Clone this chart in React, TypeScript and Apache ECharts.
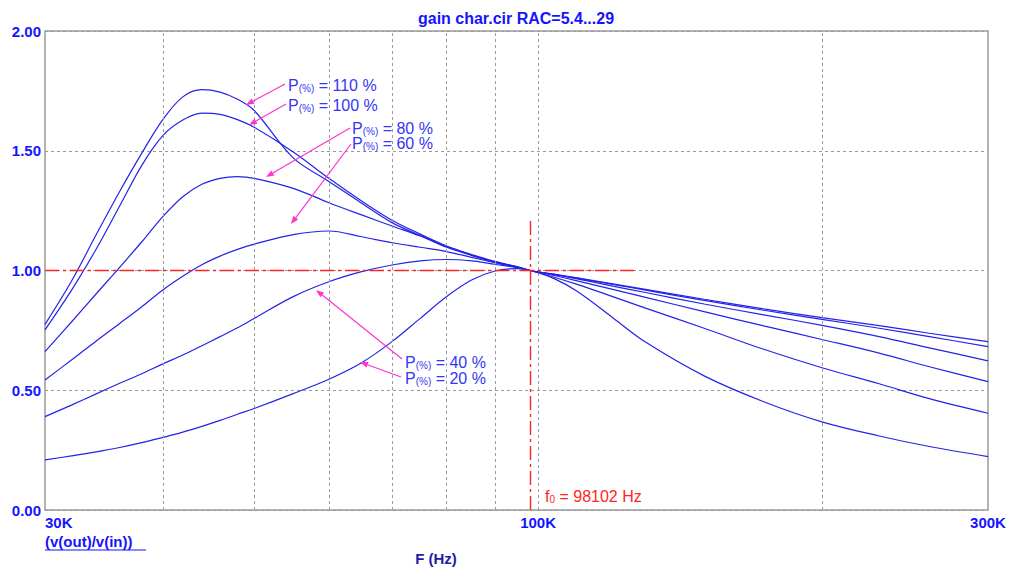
import React, { useEffect, useRef } from "react";
import * as echarts from "echarts";

// Frequencies in kHz
const FREQ_KHZ = [30, 32, 34, 36, 38, 40, 42, 44, 46, 48, 50, 55, 60, 65, 70, 75, 80, 85, 90, 95, 98.102, 104, 110, 120, 130, 150, 173.5, 200, 230, 260, 300];

const P110 = [0.775, 0.955, 1.15, 1.33, 1.49, 1.63, 1.725, 1.755, 1.745, 1.715, 1.668, 1.47, 1.372, 1.281, 1.2, 1.146, 1.097, 1.063, 1.035, 1.015, 1.0, 0.985, 0.969, 0.944, 0.921, 0.88, 0.84, 0.803, 0.77, 0.738, 0.703];
const P100 = [0.752, 0.917, 1.09, 1.269, 1.439, 1.563, 1.628, 1.657, 1.652, 1.63, 1.598, 1.495, 1.385, 1.29, 1.21, 1.152, 1.102, 1.067, 1.038, 1.016, 1.0, 0.984, 0.968, 0.942, 0.918, 0.875, 0.834, 0.796, 0.759, 0.724, 0.682];
const P80 = [0.661, 0.785, 0.903, 1.013, 1.12, 1.225, 1.308, 1.36, 1.385, 1.392, 1.385, 1.343, 1.283, 1.232, 1.186, 1.144, 1.1, 1.064, 1.034, 1.015, 1.0, 0.983, 0.965, 0.935, 0.908, 0.86, 0.815, 0.771, 0.724, 0.677, 0.623];
const P60 = [0.543, 0.626, 0.706, 0.779, 0.849, 0.919, 0.976, 1.024, 1.06, 1.088, 1.11, 1.15, 1.165, 1.141, 1.116, 1.097, 1.079, 1.055, 1.033, 1.013, 1.0, 0.979, 0.957, 0.921, 0.888, 0.828, 0.769, 0.712, 0.655, 0.598, 0.536];
const P40 = [0.39, 0.438, 0.485, 0.529, 0.569, 0.61, 0.647, 0.686, 0.724, 0.761, 0.8, 0.891, 0.953, 0.995, 1.023, 1.04, 1.046, 1.04, 1.026, 1.012, 1.0, 0.972, 0.942, 0.891, 0.843, 0.759, 0.671, 0.594, 0.527, 0.465, 0.404];
const P20 = [0.209, 0.226, 0.243, 0.261, 0.281, 0.303, 0.325, 0.349, 0.374, 0.4, 0.424, 0.486, 0.546, 0.615, 0.703, 0.8, 0.891, 0.96, 0.998, 1.008, 1.0, 0.966, 0.913, 0.803, 0.701, 0.56, 0.452, 0.368, 0.309, 0.265, 0.223];

const LOADS = ["110", "100", "80", "60", "40", "20"];
const CURVES = [P110, P100, P80, P60, P40, P20];

const X_MIN = 30000;
const X_MAX = 300000;
const X_GRID = [40000, 50000, 60000, 70000, 80000, 90000, 100000, 200000];
const Y_MIN = 0;
const Y_MAX = 2;
const Y_STEP = 0.5;

const F0 = 98102;
const REF_H_LEVEL = 1.0;
const REF_H_END = 127000;
const REF_V_TOP = 1.22;

const TITLE = "gain char.cir RAC=5.4...29";
const Y_NAME = "(v(out)/v(in))";
const X_NAME = "F (Hz)";

// annotation layout (pixels)
const ANNOT = [
  { load: "110", tx: 288, ty: 85, from: [285, 84], to: [246, 105] },
  { load: "100", tx: 288, ty: 105, from: [286, 104], to: [249, 125] },
  { load: "80", tx: 352, ty: 128, from: [350, 128], to: [266, 177] },
  { load: "60", tx: 352, ty: 143, from: [351, 144], to: [291, 224] },
  { load: "40", tx: 405, ty: 362, from: [402, 359], to: [316, 290] },
  { load: "20", tx: 405, ty: 378, from: [401, 377], to: [360, 362] },
];

const FONT = "Liberation Sans, Arial, sans-serif";
const AXIS_BLUE = "#1414ff";
const CURVE_BLUE = "#2323e8";
const TEXT_BLUE = "#3535f5";
const MAGENTA = "#ff33cc";
const RED = "#ff2424";
const GRID_GRAY = "#9a9a9a";

function arrow(from: number[], to: number[], color: string) {
  const dx = to[0] - from[0];
  const dy = to[1] - from[1];
  const len = Math.hypot(dx, dy);
  const ux = dx / len;
  const uy = dy / len;
  const L = 8;
  const W = 3;
  const bx = to[0] - ux * L;
  const by = to[1] - uy * L;
  return [
    {
      type: "line",
      shape: { x1: from[0], y1: from[1], x2: bx, y2: by },
      style: { stroke: color, lineWidth: 1.2 },
      z: 10,
    },
    {
      type: "polygon",
      shape: {
        points: [
          [to[0], to[1]],
          [bx - uy * W, by + ux * W],
          [bx + uy * W, by - ux * W],
        ],
      },
      style: { fill: color },
      z: 10,
    },
  ];
}

export default function App() {
  const ref = useRef<HTMLDivElement>(null);

  useEffect(() => {
    if (!ref.current) return;
    const chart = echarts.init(ref.current, undefined, { renderer: "svg" });

    const curveSeries = CURVES.map((vals, i) => ({
      type: "line",
      name: `P = ${LOADS[i]} %`,
      data: FREQ_KHZ.map((f, j) => [f * 1000, vals[j]]),
      showSymbol: false,
      symbol: "none",
      smooth: 0.35,
      lineStyle: { color: CURVE_BLUE, width: 1.2 },
      z: 3,
      silent: true,
    }));

    const gridSeries = {
      type: "line",
      name: "grid",
      data: [],
      z: 1,
      silent: true,
      markLine: {
        silent: true,
        symbol: "none",
        label: { show: false },
        lineStyle: { color: GRID_GRAY, type: [3, 3], width: 1 },
        data: X_GRID.map((v) => ({ xAxis: v })),
      },
    };

    const refSeries = {
      type: "line",
      name: "ref",
      data: [],
      z: 2,
      silent: true,
      markLine: {
        silent: true,
        symbol: "none",
        label: { show: false },
        lineStyle: { color: RED, type: [14, 4, 3, 4], width: 1.4 },
        data: [
          [{ coord: [X_MIN, REF_H_LEVEL] }, { coord: [REF_H_END, REF_H_LEVEL] }],
          [{ coord: [F0, Y_MIN] }, { coord: [F0, REF_V_TOP] }],
        ],
      },
    };

    const graphics: any[] = [
      {
        type: "text",
        x: 516,
        y: 18,
        style: {
          text: TITLE,
          fill: AXIS_BLUE,
          font: `bold 16px ${FONT}`,
          align: "center",
          verticalAlign: "middle",
        },
      },
      {
        type: "text",
        x: 45,
        y: 541,
        style: {
          text: Y_NAME,
          fill: AXIS_BLUE,
          font: `bold 15px ${FONT}`,
          align: "left",
          verticalAlign: "middle",
        },
      },
      {
        type: "line",
        shape: { x1: 45, y1: 550, x2: 146, y2: 550 },
        style: { stroke: AXIS_BLUE, lineWidth: 1.2 },
      },
      {
        type: "text",
        x: 436,
        y: 558,
        style: {
          text: X_NAME,
          fill: "#1c1ca8",
          font: `bold 15px ${FONT}`,
          align: "center",
          verticalAlign: "middle",
        },
      },
      {
        type: "text",
        x: 545,
        y: 496,
        style: {
          text: `{a|f}{s|0}{a| = ${F0} Hz}`,
          align: "left",
          verticalAlign: "middle",
          rich: {
            a: { fontSize: 16, fontFamily: FONT, fill: RED, verticalAlign: "bottom" },
            s: { fontSize: 10, fontFamily: FONT, fill: RED, verticalAlign: "bottom" },
          },
        },
        z: 10,
      },
    ];

    ANNOT.forEach((a) => {
      graphics.push({
        type: "text",
        x: a.tx,
        y: a.ty,
        style: {
          text: `{a|P}{s|(%)}{a| = ${a.load} %}`,
          align: "left",
          verticalAlign: "middle",
          rich: {
            a: { fontSize: 16, fontFamily: FONT, fill: TEXT_BLUE, verticalAlign: "bottom" },
            s: { fontSize: 10, fontFamily: FONT, fill: TEXT_BLUE, verticalAlign: "bottom" },
          },
        },
        z: 10,
      });
      graphics.push(...arrow(a.from, a.to, MAGENTA));
    });

    chart.setOption({
      animation: false,
      backgroundColor: "#ffffff",
      grid: {
        left: 45,
        right: 21,
        top: 31,
        bottom: 58,
        show: true,
        borderColor: GRID_GRAY,
        borderWidth: 1.5,
        backgroundColor: "transparent",
      },
      xAxis: {
        type: "log",
        logBase: 10,
        min: X_MIN,
        max: X_MAX,
        axisLine: { show: false },
        axisTick: { show: false },
        splitLine: { show: false },
        minorTick: { show: false },
        axisLabel: {
          show: true,
          showMinLabel: true,
          showMaxLabel: true,
          alignMinLabel: "left",
          margin: 5,
          color: AXIS_BLUE,
          fontWeight: "bold",
          fontSize: 15,
          fontFamily: FONT,
          formatter: (v: number) => `${Math.round(v / 1000)}K`,
        },
      },
      yAxis: {
        type: "value",
        min: Y_MIN,
        max: Y_MAX,
        interval: Y_STEP,
        axisLine: { show: false },
        axisTick: { show: false },
        splitLine: { show: true, lineStyle: { color: GRID_GRAY, type: [3, 3], width: 1 } },
        axisLabel: {
          margin: 4,
          color: AXIS_BLUE,
          fontWeight: "bold",
          fontSize: 15,
          fontFamily: FONT,
          formatter: (v: number) => v.toFixed(2),
        },
      },
      series: [gridSeries, refSeries, ...curveSeries],
      graphic: graphics,
    });

    return () => {
      chart.dispose();
    };
  }, []);

  return (
    <div
      ref={ref}
      style={{ position: "fixed", left: 0, top: 0, width: 1009, height: 568, background: "#fff" }}
    />
  );
}
